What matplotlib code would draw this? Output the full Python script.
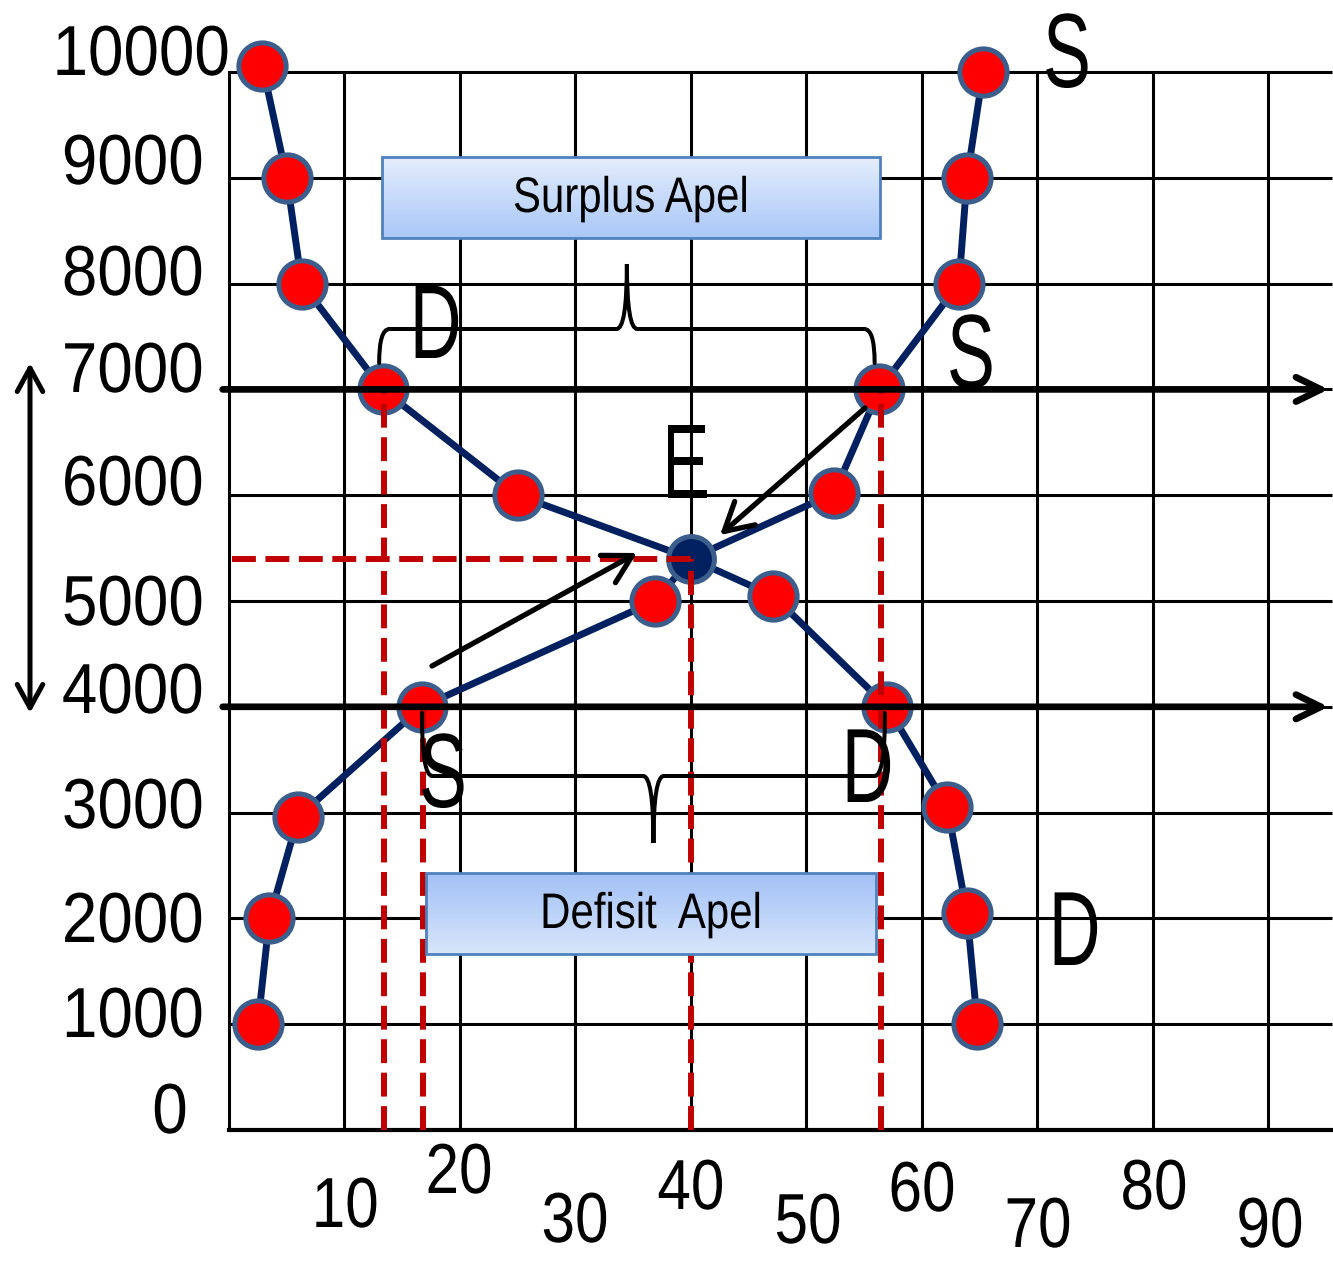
import matplotlib
matplotlib.use("Agg")
import matplotlib.pyplot as plt
from matplotlib import font_manager
from matplotlib.path import Path
from matplotlib.patches import PathPatch, Rectangle
from matplotlib.colors import LinearSegmentedColormap
from matplotlib.patheffects import AbstractPathEffect
from matplotlib.transforms import Affine2D
import numpy as np

# ---------------- data ----------------
demand_qty = [2.9, 5.0, 6.3, 13.3, 25.0, 40.0, 47.1, 57.0, 62.2, 63.9, 64.8]
demand_price = [10060, 9000, 8000, 7000, 6000, 5400, 5050, 4000, 3050, 2050, 1000]
supply_qty = [2.5, 3.5, 6.0, 16.7, 36.9, 40.0, 52.4, 56.3, 63.2, 63.9, 65.3]
supply_price = [1000, 2000, 2960, 4000, 5000, 5400, 6020, 7000, 8000, 9000, 10000]
eq_qty = 40.0
eq_price = 5400
surplus_price = 7000
deficit_price = 4000
surplus_range = [13.3, 56.3]
deficit_range = [16.7, 57.0]
guide_qty = [13.4, 16.8, 40.0, 56.45]
guide_top = [7000, 4000, 5400, 7000]
x_ticks = [10, 20, 30, 40, 50, 60, 70, 80, 90]
x_tick_labels = ["10", "20", "30", "40", "50", "60", "70", "80", "90"]
y_ticks = [0, 1000, 2000, 3000, 4000, 5000, 6000, 7000, 8000, 9000, 10000]
y_tick_labels = ["0", "1000", "2000", "3000", "4000", "5000", "6000", "7000", "8000", "9000", "10000"]
box_texts = ["Surplus Apel", "Defisit  Apel"]
curve_letters = ["D", "S", "S", "E", "S", "D", "D"]

# ---------------- layout (pixels of the 1333x1261 image) ----------------
W, H = 1333, 1261
AX_L, AX_R, AX_T, AX_B = 229, 1332, 72, 1130
XMAX, YMAX = 95.5, 10000

names = {f.name for f in font_manager.fontManager.ttflist}
NARROW = "Liberation Sans Narrow" if "Liberation Sans Narrow" in names else "Liberation Sans"
HAS_NARROW = NARROW == "Liberation Sans Narrow"
REG = "Liberation Sans"


class Condense(AbstractPathEffect):
    """Draw text horizontally condensed around an anchor (0 left, .5 centre, 1 right)."""

    def __init__(self, sx=0.8, anchor=0.5):
        super().__init__()
        self.sx = sx
        self.anchor = anchor

    def draw_path(self, renderer, gc, tpath, affine, rgbFace=None):
        ext = tpath.get_extents()
        a = ext.x0 + self.anchor * (ext.x1 - ext.x0)
        t = Affine2D().translate(-a, 0).scale(self.sx, 1).translate(a, 0) + affine
        renderer.draw_path(gc, tpath, t, rgbFace)


def cond(sx, anchor):
    if HAS_NARROW:
        sx = min(1.0, sx / 0.82)
    return [Condense(sx, anchor)]


def dx(px):
    return (px - AX_L) / (AX_R - AX_L) * XMAX


def dy(py):
    return (AX_B - py) / (AX_B - AX_T) * YMAX


fig = plt.figure(figsize=(W / 100, H / 100), dpi=100)
ax = fig.add_axes([AX_L / W, (H - AX_B) / H, (AX_R - AX_L) / W, (AX_B - AX_T) / H])
ax.set_xlim(0, XMAX)
ax.set_ylim(0, YMAX)
ax.set_xticks([])
ax.set_yticks([])
for s in ["top", "right"]:
    ax.spines[s].set_visible(False)
ax.spines["left"].set_linewidth(2.2)
ax.spines["bottom"].set_linewidth(3.0)
ax.spines["left"].set_zorder(1)
ax.spines["bottom"].set_zorder(1)

# grid
ax.vlines(x_ticks, 0, YMAX, colors="black", lw=2.2, zorder=1, clip_on=False)
ax.hlines(y_ticks[1:], 0, XMAX, colors="black", lw=2.2, zorder=1, clip_on=False)


def fig_text(s, px, py, **kw):
    return fig.text(px / W, 1 - py / H, s, **kw)


# y tick labels
y_label_right = [188, 204, 204, 204, 204, 204, 204, 204, 204, 204, 230]
y_label_base = [1133, 1037, 942, 828, 713, 625, 505, 392, 295, 184, 75]
for lab, rx, by in zip(y_tick_labels, y_label_right, y_label_base):
    fig_text(lab, rx, by, ha="right", va="baseline", fontsize=51, family=REG,
             path_effects=[Condense(0.9, 1.0)])

# x tick labels (staggered)
x_label_cx = [345, 459, 575, 691, 808, 922, 1038, 1154, 1270]
x_label_base = [1227, 1193, 1242, 1209, 1243, 1211, 1247, 1209, 1247]
for lab, cx, by in zip(x_tick_labels, x_label_cx, x_label_base):
    fig_text(lab, cx, by, ha="center", va="baseline", fontsize=51, family=NARROW,
             path_effects=cond(0.85, 0.5))

# gradient boxes
box_px = [(382, 880, 157, 238), (426, 876, 873, 954)]
box_grad = [("#e4edfc", "#a9c7f8"), ("#a2c1f6", "#d8e6fb")]
box_text_base = [212, 928]
for (x0, x1, y0, y1), (ctop, cbot), txt, tb in zip(box_px, box_grad, box_texts, box_text_base):
    cmap = LinearSegmentedColormap.from_list("g", [cbot, ctop])
    grad = np.linspace(0, 1, 256).reshape(-1, 1)
    ax.imshow(grad, extent=[dx(x0), dx(x1), dy(y1), dy(y0)], origin="lower",
              cmap=cmap, aspect="auto", zorder=6.5, clip_on=False)
    ax.add_patch(Rectangle((dx(x0), dy(y1)), dx(x1) - dx(x0), dy(y0) - dy(y1),
                           fill=False, ec="#4f81bd", lw=2.0, zorder=6.6, clip_on=False))
    fig_text(txt, (x0 + x1) / 2, tb, ha="center", va="baseline", fontsize=36,
             family=NARROW, zorder=9, path_effects=cond(0.84, 0.5))
ax.set_xlim(0, XMAX)
ax.set_ylim(0, YMAX)

# curves
ax.plot(demand_qty, demand_price, color="#002060", lw=5, zorder=4, clip_on=False)
ax.plot(supply_qty, supply_price, color="#002060", lw=5, zorder=4, clip_on=False)
dq = [q for q, p in zip(demand_qty, demand_price) if p != eq_price]
dp = [p for p in demand_price if p != eq_price]
sq = [q for q, p in zip(supply_qty, supply_price) if p != eq_price]
sp = [p for p in supply_price if p != eq_price]
mk = dict(ls="none", marker="o", ms=34, mfc="#ff0000", mec="#3b5e8c", mew=3.6,
          zorder=5, clip_on=False)
ax.plot(dq, dp, **mk)
ax.plot(sq, sp, **mk)
ax.plot([eq_qty], [eq_price], ls="none", marker="o", ms=33, mfc="#002060",
        mec="#3b5e8c", mew=3.6, zorder=5, clip_on=False)

# red dashed guide lines
dash = (0, (4.0, 1.6))
for q, top in zip(guide_qty, guide_top):
    ax.plot([q, q], [0, top], color="#c00000", lw=4.3, ls=dash, zorder=6)
ax.plot([0.3, eq_qty], [eq_price, eq_price], color="#c00000", lw=4.3, ls=dash, zorder=6)

# horizontal price arrows
for p in [surplus_price, deficit_price]:
    ax.annotate("", xy=(95.2, p), xytext=(-0.55, p), annotation_clip=False,
                arrowprops=dict(arrowstyle="->,head_length=0.45,head_width=0.22",
                                lw=4.8, color="black", mutation_scale=40,
                                shrinkA=0, shrinkB=0), zorder=6)

# vertical double arrow at the left
ax.annotate("", xy=(dx(30), dy(363)), xytext=(dx(30), dy(713)), annotation_clip=False,
            arrowprops=dict(arrowstyle="<->,head_length=0.42,head_width=0.23",
                            lw=3.6, color="black", mutation_scale=40,
                            shrinkA=0, shrinkB=0), zorder=6)

# diagonal arrows toward equilibrium
diag_arrows = [((865, 408), (720, 535)), ((432, 666), (637, 553))]
for (sx, sy), (ex, ey) in diag_arrows:
    ax.annotate("", xy=(dx(ex), dy(ey)), xytext=(dx(sx), dy(sy)),
                arrowprops=dict(arrowstyle="->,head_length=0.5,head_width=0.28",
                                lw=3.8, color="black", mutation_scale=40,
                                shrinkA=0, shrinkB=0), zorder=7)


# braces
def brace(x0, x1, y_end, y_line, y_tip, corner=0.9, w=0.9):
    m = (x0 + x1) / 2
    verts = [(x0, y_end), (x0, y_line), (x0 + corner, y_line),
             (m - w, y_line),
             (m, y_line), (m, y_tip),
             (m, y_line), (m + w, y_line),
             (x1 - corner, y_line),
             (x1, y_line), (x1, y_end)]
    codes = [Path.MOVETO, Path.CURVE3, Path.CURVE3, Path.LINETO,
             Path.CURVE3, Path.CURVE3, Path.CURVE3, Path.CURVE3,
             Path.LINETO, Path.CURVE3, Path.CURVE3]
    ax.add_patch(PathPatch(Path(verts, codes), fill=False, lw=2.9, ec="black",
                           zorder=7, clip_on=False, capstyle="round"))


brace(surplus_range[0] - 0.3, surplus_range[1] - 0.4, dy(363), dy(329), dy(264))
brace(deficit_range[0], deficit_range[1] - 0.2, dy(713), dy(776), dy(843))

# curve letters
letter_pos = [(435, 358), (971, 388), (1067, 87), (685, 498), (443, 807), (867, 802), (1074, 965)]
for t, (cx, by) in zip(curve_letters, letter_pos):
    fig_text(t, cx, by, ha="center", va="baseline", fontsize=76, family=NARROW,
             zorder=9, path_effects=cond(0.68, 0.5))

fig.savefig("out.png", dpi=100)
